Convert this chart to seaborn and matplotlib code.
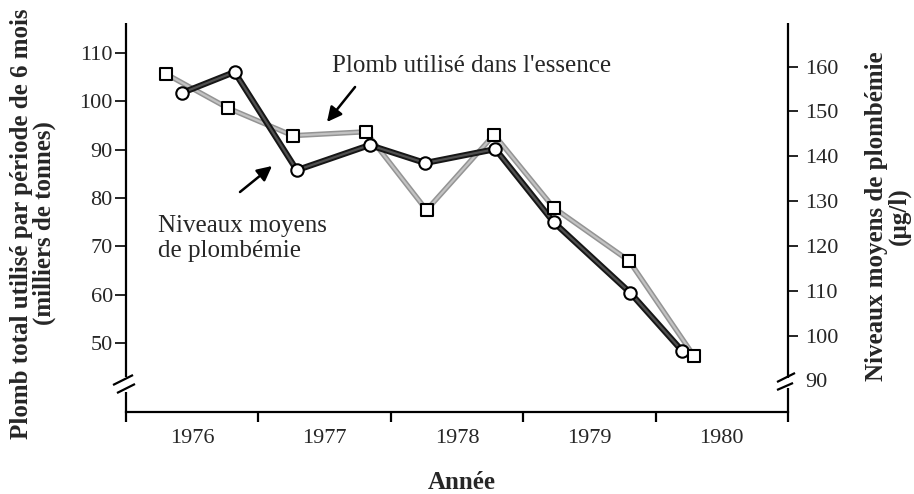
import numpy as np
import pandas as pd
import matplotlib
matplotlib.use("Agg")
import matplotlib.pyplot as plt
import matplotlib.patheffects as pe
import seaborn as sns

# ---- data ----
years = [1976, 1977, 1978, 1979, 1980]
gas_x = [1976.30, 1976.77, 1977.26, 1977.81, 1978.27, 1978.78, 1979.23, 1979.80, 1980.29]
gas_lead = [105.7, 98.6, 92.9, 93.7, 77.5, 93.1, 78.0, 67.0, 47.3]          # milliers de tonnes
blood_x = [1976.42, 1976.82, 1977.29, 1977.84, 1978.26, 1978.79, 1979.23, 1979.81, 1980.20]
blood_lead = [154.1, 158.8, 136.9, 142.5, 138.5, 141.6, 125.3, 109.5, 96.6]   # µg/l
left_ticks = [50, 60, 70, 80, 90, 100, 110]
right_ticks = [90, 100, 110, 120, 130, 140, 150, 160]

gas = pd.DataFrame({"x": gas_x, "y": gas_lead})
blood = pd.DataFrame({"x": blood_x, "y": blood_lead})

sns.set_style("white")
plt.rcParams["font.family"] = ["Liberation Serif", "DejaVu Serif"]
FS_TICK = 16
FS_NOTE = 18
FS_LAB = 18

W, H = 914, 494
fig = plt.figure(figsize=(W / 100, H / 100), dpi=100)
x0, x1, ytop, ybot = 126, 788, 23, 412
ax = fig.add_axes([x0 / W, (H - ybot) / H, (x1 - x0) / W, (ybot - ytop) / H])
ax.set_facecolor("none")

# gasoline lead line (left scale)
sns.lineplot(data=gas, x="x", y="y", ax=ax, color="#c2c2c2", linewidth=1.6,
             path_effects=[pe.Stroke(linewidth=3.8, foreground="#949494"), pe.Normal()])

# blood lead (right scale)
ax2 = ax.twinx()
sns.lineplot(data=blood, x="x", y="y", ax=ax2, color="#505050", linewidth=1.6,
             path_effects=[pe.Stroke(linewidth=4.4, foreground="#161616"), pe.Normal()])
sns.scatterplot(data=blood, x="x", y="y", ax=ax2, marker="o", s=80, color="white",
                edgecolor="black", linewidth=1.5, zorder=5)

# gasoline markers on top
ax3 = ax.twinx()
sns.scatterplot(data=gas, x="x", y="y", ax=ax3, marker="s", s=72, color="white",
                edgecolor="black", linewidth=1.5, zorder=5)

lylim = (35.72, 116.21)
rylim = (82.94, 169.74)
ax.set_ylim(*lylim)
ax3.set_ylim(*lylim)
ax2.set_ylim(*rylim)
ax.set_xlim(years[0], years[-1] + 1)

for a in (ax, ax2, ax3):
    a.set_xlabel("")
    a.set_ylabel("")
    for s in a.spines.values():
        s.set_visible(False)
ax3.set_yticks([])
ax3.tick_params(left=False, right=False, labelleft=False, labelright=False)

# x axis: boundaries as ticks, year names in the middle
ax.spines["bottom"].set_visible(True)
ax.spines["bottom"].set_linewidth(1.6)
ax.spines["bottom"].set_color("black")
ax.set_xticks(list(years) + [years[-1] + 1])
ax.set_xticklabels([])
ax.set_xticks([y + 0.5 for y in years], minor=True)
ax.set_xticklabels([str(y) for y in years], minor=True)
ax.tick_params(axis="x", which="major", direction="out", length=7.5, width=1.6,
               color="black", bottom=True)
ax.tick_params(axis="x", which="minor", length=0, pad=12, labelsize=FS_TICK)

# left axis
ax.set_yticks(left_ticks)
ax.set_yticklabels([str(v) for v in left_ticks])
ax.tick_params(axis="y", direction="out", length=8, width=1.2, color="black",
               left=True, pad=1.5, labelsize=FS_TICK)

# right axis
ax2.set_yticks(right_ticks)
ax2.set_yticklabels([str(v) for v in right_ticks])
ax2.tick_params(axis="y", direction="out", length=7.5, width=1.2, color="black",
                right=True, pad=5, labelsize=FS_TICK)
ax2.yaxis.get_major_ticks()[0].tick2line.set_visible(False)

# spines with break marks
kw = dict(transform=ax.transAxes, color="black", lw=1.6, clip_on=False,
          solid_capstyle="butt")
ax.plot([0, 0], [0, 0.0514], **kw)
ax.plot([0, 0], [0.090, 1.0], **kw)
ax.plot([-0.0196, 0.0106], [0.0694, 0.0951], **kw)
ax.plot([-0.0136, 0.0136], [0.0488, 0.0720], **kw)
ax.plot([1, 1], [0, 0.0617], **kw)
ax.plot([1, 1], [0.0874, 1.0], **kw)
ax.plot([0.9834, 1.0106], [0.0771, 0.1003], **kw)
ax.plot([0.9834, 1.0076], [0.0566, 0.0746], **kw)

# annotations
ax3.text(1977.556, 106.07, "Plomb utilisé dans l'essence", fontsize=FS_NOTE,
         ha="left", va="baseline")
ax3.annotate("", xy=(1977.518, 95.73), xytext=(1977.730, 102.97),
             arrowprops=dict(arrowstyle="-|>", lw=1.8, color="black",
                             mutation_scale=22, shrinkA=0, shrinkB=0))
ax3.annotate("", xy=(1977.103, 86.62), xytext=(1976.861, 81.24),
             arrowprops=dict(arrowstyle="-|>", lw=1.8, color="black",
                             mutation_scale=22, shrinkA=0, shrinkB=0))
ax3.text(1976.242, 72.97, "Niveaux moyens", fontsize=FS_NOTE, ha="left", va="baseline")
ax3.text(1976.242, 67.79, "de plombémie", fontsize=FS_NOTE, ha="left", va="baseline")

# axis titles
fig.text(33 / W, 1 - 223.5 / H, "Plomb total utilisé par période de 6 mois\n(milliers de tonnes)",
         rotation=90, ha="center", va="center", multialignment="center",
         fontsize=FS_LAB, fontweight="bold", linespacing=1.0)
fig.text(888 / W, 1 - 216.5 / H, "Niveaux moyens de plombémie\n(µg/l)",
         rotation=90, ha="center", va="center", multialignment="center",
         fontsize=FS_LAB, fontweight="bold", linespacing=1.0)
fig.text(462 / W, 0.0, "Année", ha="center", va="bottom",
         fontsize=FS_LAB, fontweight="bold")

fig.savefig("out.png", dpi=100)
